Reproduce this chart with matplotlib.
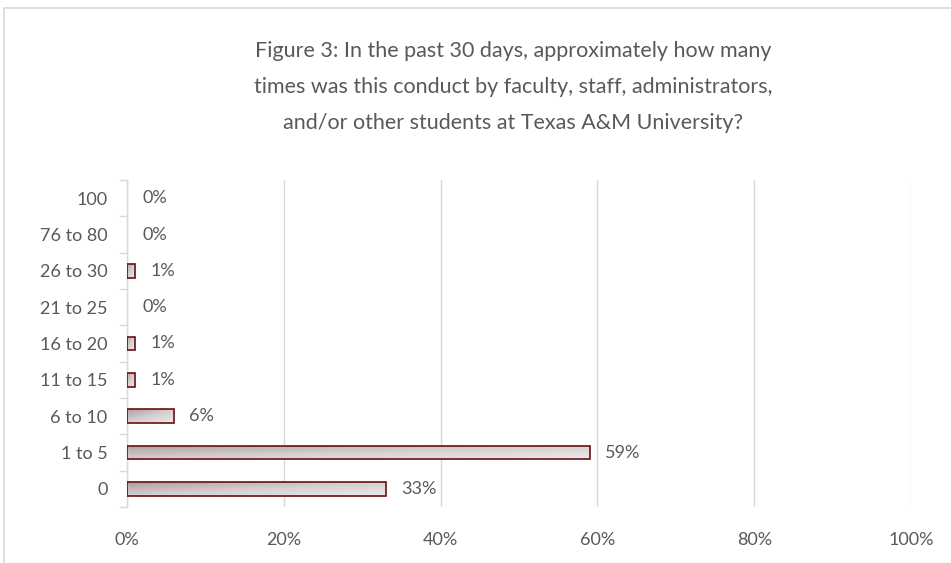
import matplotlib
matplotlib.use('Agg')
import matplotlib.pyplot as plt
import numpy as np
from matplotlib.colors import LinearSegmentedColormap
from matplotlib.patches import Rectangle

# Data
categories = ["0", "1 to 5", "6 to 10", "11 to 15", "16 to 20",
              "21 to 25", "26 to 30", "76 to 80", "100"]
values = [33, 59, 6, 1, 1, 0, 1, 0, 0]
x_ticks = [0, 20, 40, 60, 80, 100]

title = ("Figure 3: In the past 30 days, approximately how many\n"
         "times was this conduct by faculty, staff, administrators,\n"
         "and/or other students at Texas A&M University?")

text_color = "#595959"
grid_color = "#d9d9d9"
edge_color = "#6a0e10"

plt.rcParams['font.family'] = ['Lato', 'DejaVu Sans']

fig = plt.figure(figsize=(9.51, 5.63), dpi=100)
ax = fig.add_axes([127 / 951, 1 - 507 / 563, (911 - 127) / 951, (507 - 180) / 563])

# chart border (only top and left visible in the crop)
fig.patches.append(Rectangle((4 / 951, -0.1), 1.2, 1.1 - 8 / 563,
                             transform=fig.transFigure, fill=False,
                             edgecolor="#d9d9d9", linewidth=1.2))

y = np.arange(len(categories))
bar_h = 0.38
bars = ax.barh(y, values, height=bar_h, color="none", edgecolor=edge_color,
               linewidth=1.2, zorder=3)

# gradient fill inside each bar (darker top-left, lighter bottom-right)
cmap = LinearSegmentedColormap.from_list("grad", ["#ad9fa2", "#d6cfd0", "#ece9e9"])
gx = np.linspace(0, 1, 200)
gy = np.linspace(0, 1, 20)
GX, GY = np.meshgrid(gx, gy)
grad = 0.5 * GX + 0.5 * GY
for bar, v in zip(bars, values):
    if v <= 0:
        bar.set_linewidth(0)
        continue
    x0, y0 = bar.get_x(), bar.get_y()
    w, h = bar.get_width(), bar.get_height()
    im = ax.imshow(grad, cmap=cmap, extent=(x0, x0 + w, y0, y0 + h),
                   aspect="auto", zorder=2, interpolation="bilinear")
    im.set_clip_path(bar)

for yi, v in zip(y, values):
    ax.annotate(f"{v}%", xy=(v, yi), xytext=(11, 0), textcoords="offset points",
                va="center", ha="left", fontsize=13, color=text_color)

ax.set_xlim(0, 100)
ax.set_ylim(-0.5, len(categories) - 0.5)
ax.set_xticks(x_ticks)
ax.set_xticklabels([f"{t}%" for t in x_ticks])
ax.set_yticks(y)
ax.set_yticklabels(categories)
ax.set_yticks(np.arange(-0.5, len(categories), 1), minor=True)

ax.tick_params(axis="x", length=0, pad=18, labelsize=13, labelcolor=text_color)
ax.tick_params(axis="y", which="major", length=0, pad=14, labelsize=13,
               labelcolor=text_color)
ax.tick_params(axis="y", which="minor", length=6, width=1, color=grid_color)

ax.grid(axis="x", color=grid_color, linewidth=1, zorder=0)
ax.set_axisbelow(True)
for s in ["top", "right", "bottom"]:
    ax.spines[s].set_visible(False)
ax.spines["left"].set_color(grid_color)
ax.spines["left"].set_linewidth(1)

fig.text(513 / 951, 1 - 87 / 563, title, ha="center", va="center",
         fontsize=15.5, color=text_color, linespacing=1.98)

fig.savefig("out.png", dpi=100)
